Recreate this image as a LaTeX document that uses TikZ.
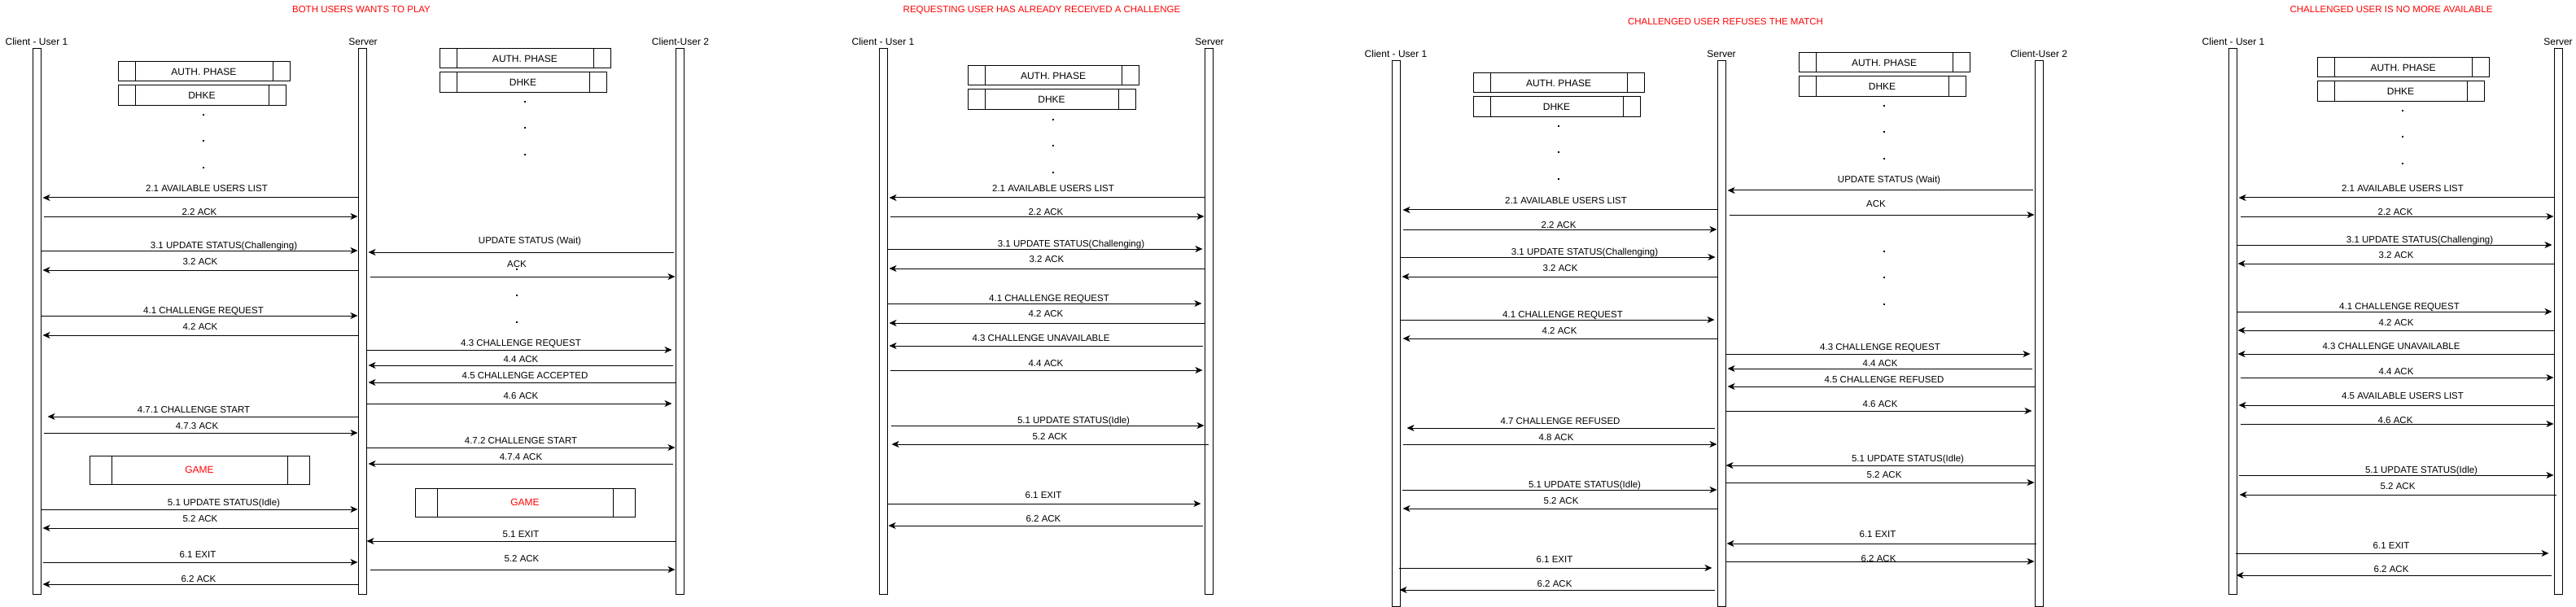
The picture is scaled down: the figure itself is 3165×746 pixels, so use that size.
\documentclass[tikz,border=0pt]{standalone}
\usepackage{fontspec}
\setmainfont{Liberation Sans}
\usetikzlibrary{arrows.meta}
\newcommand\sqmsg[6]{%
  \node[lbl] (#1) at (#5) {#6};
  \draw[msg] (#2 |- 0,#4) -- (#3 |- 0,#4);}
\begin{document}
\begin{tikzpicture}[x=1pt,y=-1pt,
  life/.style={draw, line width=1pt, minimum width=10pt, minimum height=670pt, inner sep=0pt},
  actor/.style={font=\fontsize{12}{14}\selectfont, inner sep=0pt, text height=8.6pt, text depth=0pt},
  title/.style={text=red, font=\fontsize{11.5}{14}\selectfont, inner sep=0pt, text height=8.3pt, text depth=0pt},
  lbl/.style={font=\fontsize{11.5}{14}\selectfont, inner sep=0pt, text height=8.3pt, text depth=0pt},
  msg/.style={line width=1pt, -{Stealth[length=9pt,width=8pt,inset=2.5pt]}},
  procinset/.store in=\procinset, procinset=21pt,
  proc/.style={draw, line width=1pt, inner sep=0pt, font=\fontsize{12}{14}\selectfont,
    text height=8.6pt, text depth=0pt,
    path picture={\draw[line width=1pt]
      ([xshift=\procinset]path picture bounding box.north west) -- ([xshift=\procinset]path picture bounding box.south west)
      ([xshift=-\procinset]path picture bounding box.north east) -- ([xshift=-\procinset]path picture bounding box.south east);}},
  game/.style={proc, procinset=27pt, text=red, minimum width=270pt, minimum height=35pt},
  dotsq/.style={fill=black, rectangle, minimum size=2.6pt, inner sep=0pt}
]
\useasboundingbox (0,0) rectangle (3165,746);

% ---------- titles ----------
\node[title] (t1) at (444,11) {BOTH USERS WANTS TO PLAY};
\node[title] (t2) at (1280,11) {REQUESTING USER HAS ALREADY RECEIVED A CHALLENGE};
\node[title] (t3) at (2120,26) {CHALLENGED USER REFUSES THE MATCH};
\node[title] (t4) at (2938,11) {CHALLENGED USER IS NO MORE AVAILABLE};

% ---------- lifelines ----------
\node[life] (C1) at (45,395) {};
\node[life] (S1) at (445,395) {};
\node[life] (U1) at (835,395) {};
\node[life] (C2) at (1085,395) {};
\node[life] (S2) at (1485,395) {};
\node[life] (C3) at (1715,410) {};
\node[life] (S3) at (2115,410) {};
\node[life] (U3) at (2505,410) {};
\node[life] (C4) at (2743,395) {};
\node[life] (S4) at (3143,395) {};

\node[actor] (nC1) at (45,51) {Client - User 1};
\node[actor] (nS1) at (446,51) {Server};
\node[actor] (nU1) at (836,51) {Client-User 2};
\node[actor] (nC2) at (1085,51) {Client - User 1};
\node[actor] (nS2) at (1486,51) {Server};
\node[actor] (nC3) at (1715,66) {Client - User 1};
\node[actor] (nS3) at (2115,66) {Server};
\node[actor] (nU3) at (2505,66) {Client-User 2};
\node[actor] (nC4) at (2744,51) {Client - User 1};
\node[actor] (nS4) at (3143,51) {Server};

% ---------- phase boxes ----------
\node[proc, minimum width=211pt, minimum height=24pt] (a1l) at (250.5,88) {AUTH. PHASE};
\node[proc, minimum width=206pt, minimum height=25pt] (d1l) at (248,117.5) {DHKE};
\node[proc, minimum width=210pt, minimum height=24pt] (a1r) at (645,72) {AUTH. PHASE};
\node[proc, minimum width=205pt, minimum height=25pt] (d1r) at (642.5,101.5) {DHKE};
\node[game] (g1l) at (245,577.5) {GAME};
\node[game] (g1r) at (645,617.5) {GAME};

\node[proc, minimum width=210pt, minimum height=24pt] (a2) at (1294,93) {AUTH. PHASE};
\node[proc, minimum width=206pt, minimum height=25pt] (d2) at (1292,122.5) {DHKE};

\node[proc, minimum width=210pt, minimum height=24pt] (a3l) at (1915,102) {AUTH. PHASE};
\node[proc, minimum width=205pt, minimum height=25pt] (d3l) at (1912.5,131.5) {DHKE};
\node[proc, minimum width=210pt, minimum height=24pt] (a3r) at (2315,77) {AUTH. PHASE};
\node[proc, minimum width=205pt, minimum height=25pt] (d3r) at (2312.5,106.5) {DHKE};

\node[proc, minimum width=211pt, minimum height=24pt] (a4) at (2952.5,83) {AUTH. PHASE};
\node[proc, minimum width=205pt, minimum height=25pt] (d4) at (2949.5,112.5) {DHKE};

% ---------- dots ----------
\node[dotsq] (p1a) at (250,141) {};
\node[dotsq] (p1b) at (250,173) {};
\node[dotsq] (p1c) at (250,206) {};
\node[dotsq] (p1d) at (645,125) {};
\node[dotsq] (p1e) at (645,157) {};
\node[dotsq] (p1f) at (645,190) {};
\node[dotsq] (p1g) at (635,331) {};
\node[dotsq] (p1h) at (635,363) {};
\node[dotsq] (p1i) at (635,396) {};
\node[dotsq] (p2a) at (1294,147) {};
\node[dotsq] (p2b) at (1294,179) {};
\node[dotsq] (p2c) at (1294,212) {};
\node[dotsq] (p3a) at (1915,155) {};
\node[dotsq] (p3b) at (1915,187) {};
\node[dotsq] (p3c) at (1915,220) {};
\node[dotsq] (p3d) at (2315,130) {};
\node[dotsq] (p3e) at (2315,162) {};
\node[dotsq] (p3f) at (2315,195) {};
\node[dotsq] (p3g) at (2315,309) {};
\node[dotsq] (p3h) at (2315,341) {};
\node[dotsq] (p3i) at (2315,374) {};
\node[dotsq] (p4a) at (2952,136) {};
\node[dotsq] (p4b) at (2952,168) {};
\node[dotsq] (p4c) at (2952,201) {};

% ---------- panel 1, client 1 <-> server ----------
\sqmsg{m101}{S1.west}{[xshift=2pt]C1.east}{243}{254,231}{2.1 AVAILABLE USERS LIST}
\sqmsg{m102}{[xshift=3pt]C1.east}{S1.west}{266}{245,260}{2.2 ACK}
\sqmsg{m103}{C1.east}{S1.west}{308}{275,301}{3.1 UPDATE STATUS(Challenging)}
\sqmsg{m104}{S1.west}{[xshift=2pt]C1.east}{332}{246,321}{3.2 ACK}
\sqmsg{m105}{C1.east}{S1.west}{388}{250,381}{4.1 CHALLENGE REQUEST}
\sqmsg{m106}{S1.west}{[xshift=2pt]C1.east}{412}{246,401}{4.2 ACK}
\sqmsg{m107}{S1.west}{[xshift=8pt]C1.east}{512}{238,503}{4.7.1 CHALLENGE START}
\sqmsg{m108}{[xshift=3pt]C1.east}{S1.west}{532}{242,523}{4.7.3 ACK}
\sqmsg{m109}{C1.east}{S1.west}{626}{275,617}{5.1 UPDATE STATUS(Idle)}
\sqmsg{m110}{S1.west}{[xshift=2pt]C1.east}{649}{246,637}{5.2 ACK}
\sqmsg{m111}{[xshift=2pt]C1.east}{S1.west}{691}{243,681}{6.1 EXIT}
\sqmsg{m112}{S1.west}{[xshift=2pt]C1.east}{718}{244,711}{6.2 ACK}

% ---------- panel 1, server <-> client 2 ----------
\sqmsg{m113}{[xshift=-2pt]U1.west}{[xshift=2pt]S1.east}{310}{651,295}{UPDATE STATUS (Wait)}
\sqmsg{m114}{[xshift=4pt]S1.east}{U1.west}{340}{635,324}{ACK}
\sqmsg{m115}{S1.east}{[xshift=-4pt]U1.west}{430}{640,421}{4.3 CHALLENGE REQUEST}
\sqmsg{m116}{[xshift=-3pt]U1.west}{[xshift=2pt]S1.east}{449}{640,441}{4.4 ACK}
\sqmsg{m117}{U1.west}{[xshift=2pt]S1.east}{470}{645,461}{4.5 CHALLENGE ACCEPTED}
\sqmsg{m118}{S1.east}{[xshift=-4pt]U1.west}{496}{640,486}{4.6 ACK}
\sqmsg{m119}{S1.east}{U1.west}{550}{640,541}{4.7.2 CHALLENGE START}
\sqmsg{m120}{[xshift=-3pt]U1.west}{[xshift=2pt]S1.east}{570}{640,561}{4.7.4 ACK}
\sqmsg{m121}{U1.west}{S1.east}{665}{640,656}{5.1 EXIT}
\sqmsg{m122}{[xshift=4pt]S1.east}{U1.west}{700}{641,686}{5.2 ACK}

% ---------- panel 2 ----------
\sqmsg{m201}{S2.west}{[xshift=2pt]C2.east}{243}{1294,231}{2.1 AVAILABLE USERS LIST}
\sqmsg{m202}{[xshift=3pt]C2.east}{S2.west}{266}{1285,260}{2.2 ACK}
\sqmsg{m203}{C2.east}{[xshift=-2pt]S2.west}{306}{1316,299}{3.1 UPDATE STATUS(Challenging)}
\sqmsg{m204}{S2.west}{[xshift=2pt]C2.east}{330}{1286,318}{3.2 ACK}
\sqmsg{m205}{C2.east}{[xshift=-3pt]S2.west}{373}{1289,366}{4.1 CHALLENGE REQUEST}
\sqmsg{m206}{S2.west}{[xshift=2pt]C2.east}{397}{1285,385}{4.2 ACK}
\sqmsg{m207}{[xshift=-2pt]S2.west}{[xshift=2pt]C2.east}{425}{1279,415}{4.3 CHALLENGE UNAVAILABLE}
\sqmsg{m208}{[xshift=3pt]C2.east}{[xshift=-2pt]S2.west}{455}{1285,446}{4.4 ACK}
\sqmsg{m209}{[xshift=4pt]C2.east}{S2.west}{523}{1319,516}{5.1 UPDATE STATUS(Idle)}
\sqmsg{m210}{[xshift=5pt]S2.west}{[xshift=5pt]C2.east}{546}{1290,536}{5.2 ACK}
\sqmsg{m211}{C2.east}{[xshift=-4pt]S2.west}{619}{1282,608}{6.1 EXIT}
\sqmsg{m212}{[xshift=-2pt]S2.west}{[xshift=1pt]C2.east}{646}{1282,637}{6.2 ACK}

% ---------- panel 3, client 1 <-> server ----------
\sqmsg{m301}{S3.west}{[xshift=3pt]C3.east}{258}{1924,246}{2.1 AVAILABLE USERS LIST}
\sqmsg{m302}{[xshift=3pt]C3.east}{S3.west}{282}{1915,276}{2.2 ACK}
\sqmsg{m303}{C3.east}{[xshift=-2pt]S3.west}{316}{1947,309}{3.1 UPDATE STATUS(Challenging)}
\sqmsg{m304}{S3.west}{[xshift=2pt]C3.east}{340}{1917,329}{3.2 ACK}
\sqmsg{m305}{C3.east}{[xshift=-3pt]S3.west}{393}{1920,386}{4.1 CHALLENGE REQUEST}
\sqmsg{m306}{S3.west}{[xshift=3pt]C3.east}{416}{1916,406}{4.2 ACK}
\sqmsg{m307}{[xshift=-3pt]S3.west}{[xshift=8pt]C3.east}{526}{1917,517}{4.7 CHALLENGE REFUSED}
\sqmsg{m308}{[xshift=3pt]C3.east}{S3.west}{546}{1912,537}{4.8 ACK}
\sqmsg{m309}{[xshift=2pt]C3.east}{S3.west}{602}{1947,595}{5.1 UPDATE STATUS(Idle)}
\sqmsg{m310}{S3.west}{[xshift=3pt]C3.east}{625}{1918,615}{5.2 ACK}
\sqmsg{m311}{[xshift=-2pt]C3.east}{[xshift=-6pt]S3.west}{698}{1910,687}{6.1 EXIT}
\sqmsg{m312}{[xshift=-3pt]S3.west}{[xshift=-1pt]C3.east}{725}{1910,717}{6.2 ACK}

% ---------- panel 3, server <-> client 2 ----------
\sqmsg{m313}{[xshift=-2pt]U3.west}{[xshift=2pt]S3.east}{234}{2321,220}{UPDATE STATUS (Wait)}
\sqmsg{m314}{[xshift=4pt]S3.east}{U3.west}{264}{2305,250}{ACK}
\sqmsg{m315}{S3.east}{[xshift=-5pt]U3.west}{435}{2310,426}{4.3 CHALLENGE REQUEST}
\sqmsg{m316}{[xshift=-3pt]U3.west}{[xshift=2pt]S3.east}{453}{2310,446}{4.4 ACK}
\sqmsg{m317}{U3.west}{[xshift=2pt]S3.east}{475}{2315,466}{4.5 CHALLENGE REFUSED}
\sqmsg{m318}{S3.east}{[xshift=-3pt]U3.west}{505}{2310,496}{4.6 ACK}
\sqmsg{m319}{U3.west}{S3.east}{572}{2344,563}{5.1 UPDATE STATUS(Idle)}
\sqmsg{m320}{S3.east}{U3.west}{593}{2315,583}{5.2 ACK}
\sqmsg{m321}{[xshift=2pt]U3.west}{[xshift=1pt]S3.east}{668}{2307,656}{6.1 EXIT}
\sqmsg{m322}{S3.east}{U3.west}{690}{2308,686}{6.2 ACK}

% ---------- panel 4 ----------
\sqmsg{m401}{S4.west}{[xshift=2pt]C4.east}{243}{2952,231}{2.1 AVAILABLE USERS LIST}
\sqmsg{m402}{[xshift=4pt]C4.east}{S4.west}{266}{2943,260}{2.2 ACK}
\sqmsg{m403}{C4.east}{[xshift=-2pt]S4.west}{301}{2973,294}{3.1 UPDATE STATUS(Challenging)}
\sqmsg{m404}{S4.west}{[xshift=1pt]C4.east}{324}{2944,313}{3.2 ACK}
\sqmsg{m405}{C4.east}{[xshift=-2pt]S4.west}{383}{2948,376}{4.1 CHALLENGE REQUEST}
\sqmsg{m406}{S4.west}{[xshift=1pt]C4.east}{406}{2944,396}{4.2 ACK}
\sqmsg{m407}{S4.west}{[xshift=1pt]C4.east}{435}{2938,425}{4.3 CHALLENGE UNAVAILABLE}
\sqmsg{m408}{[xshift=4pt]C4.east}{S4.west}{464}{2944,456}{4.4 ACK}
\sqmsg{m409}{S4.west}{[xshift=2pt]C4.east}{498}{2952,486}{4.5 AVAILABLE USERS LIST}
\sqmsg{m410}{[xshift=4pt]C4.east}{S4.west}{521}{2943,516}{4.6 ACK}
\sqmsg{m411}{[xshift=2pt]C4.east}{S4.west}{584}{2975,577}{5.1 UPDATE STATUS(Idle)}
\sqmsg{m412}{[xshift=3pt]S4.west}{[xshift=3pt]C4.east}{608}{2946,597}{5.2 ACK}
\sqmsg{m413}{[xshift=-2pt]C4.east}{[xshift=-6pt]S4.west}{680}{2938,670}{6.1 EXIT}
\sqmsg{m414}{[xshift=-3pt]S4.west}{[xshift=-1pt]C4.east}{707}{2938,699}{6.2 ACK}
\end{tikzpicture}
\end{document}
